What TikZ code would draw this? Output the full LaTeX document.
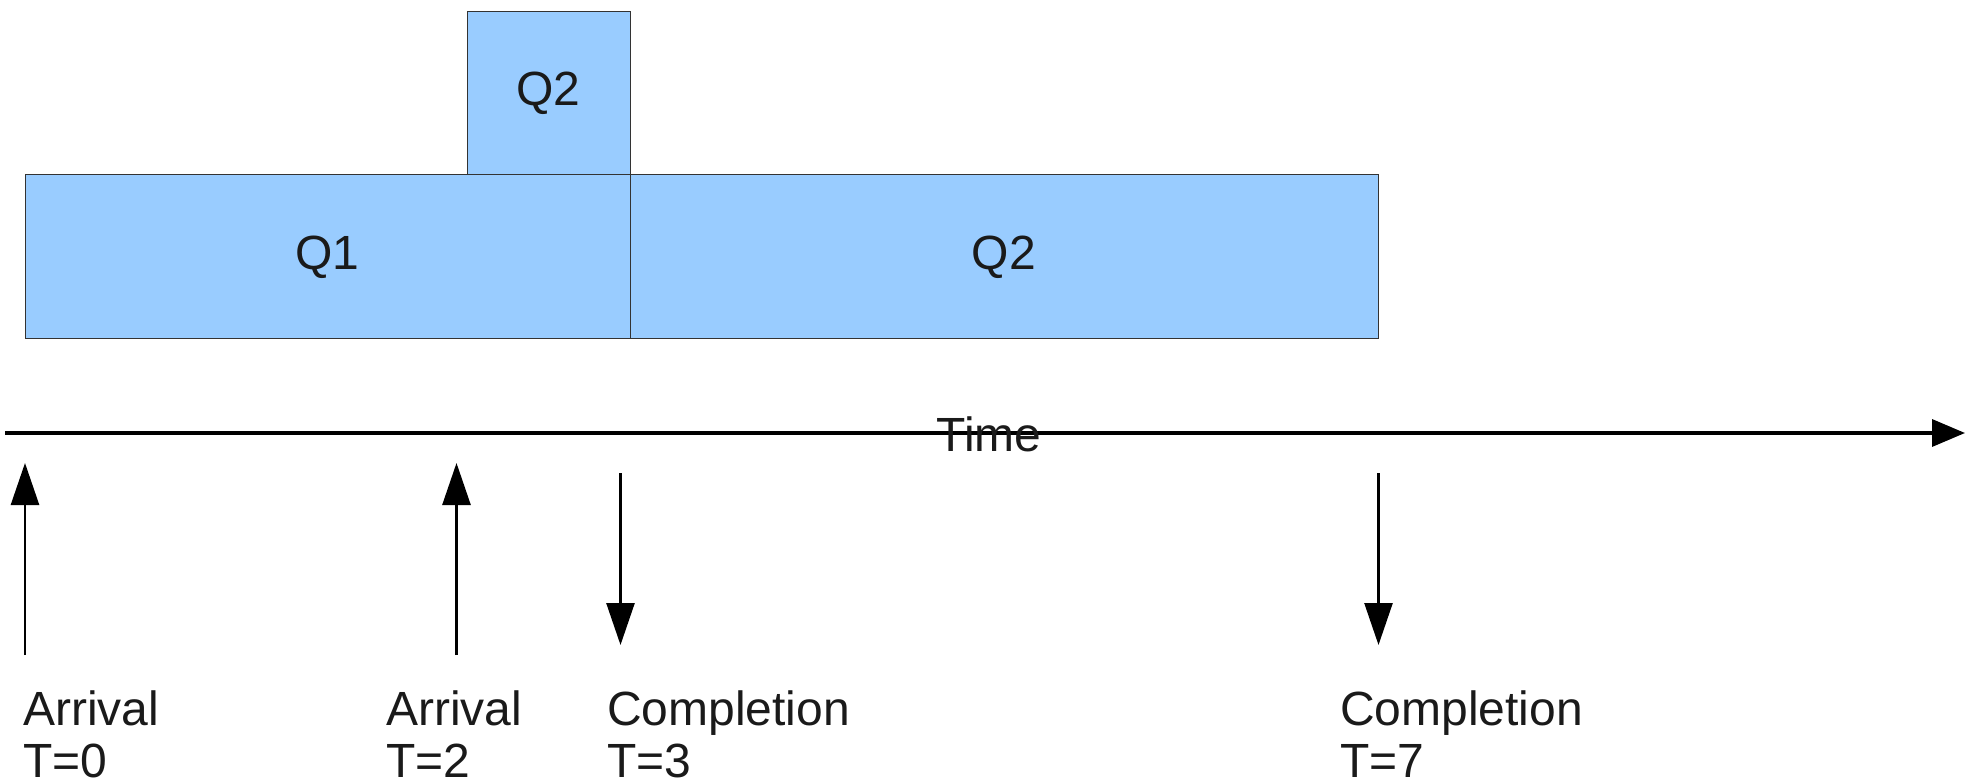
\documentclass[tikz,border=0pt]{standalone}
\usepackage{fontspec}
\setmainfont{Liberation Sans}
\usetikzlibrary{arrows.meta}
\definecolor{boxfill}{HTML}{99CCFF}
\definecolor{boxline}{HTML}{333333}
\definecolor{txt}{HTML}{1A1A1A}
\begin{document}
\begin{tikzpicture}[x=1pt,y=-1pt,
  qbox/.style={draw=boxline,fill=boxfill,line width=1pt,inner sep=0pt,text=txt,font=\fontsize{48}{52}\selectfont},
  lbl/.style={inner sep=0pt,anchor=south west,align=left,text=txt,font=\fontsize{48}{52}\selectfont},
  evarrow/.style={line width=2.6pt,-{Triangle[length=42pt,width=28pt]}},
  axisarrow/.style={line width=3.5pt,-{Triangle[length=33pt,width=27pt]}}]
\useasboundingbox (0,0) rectangle (1965,783);
% boxes
\node[qbox,minimum width=605pt,minimum height=164pt] (q1) at (327.5,257) {Q1};
\node[qbox,minimum width=748pt,minimum height=164pt] (q2b) at (1004,257) {Q2};
\node[qbox,minimum width=163pt,minimum height=163pt] (q2s) at (548.5,93.5) {Q2};
% axis
\coordinate (axs) at (5,433);
\coordinate (axe) at (1965,433);
\draw[axisarrow] (axs) -- (axe);
\node[inner sep=0pt,anchor=base,text=txt,font=\fontsize{48}{52}\selectfont] (time) at (989,451) {Time};
% event arrows
\coordinate (a0s) at (25,655);   \coordinate (a0e) at (25,463);
\coordinate (a2s) at (456.5,655); \coordinate (a2e) at (456.5,463);
\coordinate (c3s) at (620.5,473); \coordinate (c3e) at (620.5,645);
\coordinate (c7s) at (1378.5,473); \coordinate (c7e) at (1378.5,645);
\draw[evarrow] (a0s) -- (a0e);
\draw[evarrow] (a2s) -- (a2e);
\draw[evarrow] (c3s) -- (c3e);
\draw[evarrow] (c7s) -- (c7e);
% labels
\node[lbl] (l0) at (23,778) {Arrival\\T=0};
\node[lbl] (l2) at (386,778) {Arrival\\T=2};
\node[lbl] (l3) at (607,778) {Completion\\T=3};
\node[lbl] (l7) at (1340,778) {Completion\\T=7};
\end{tikzpicture}
\end{document}
